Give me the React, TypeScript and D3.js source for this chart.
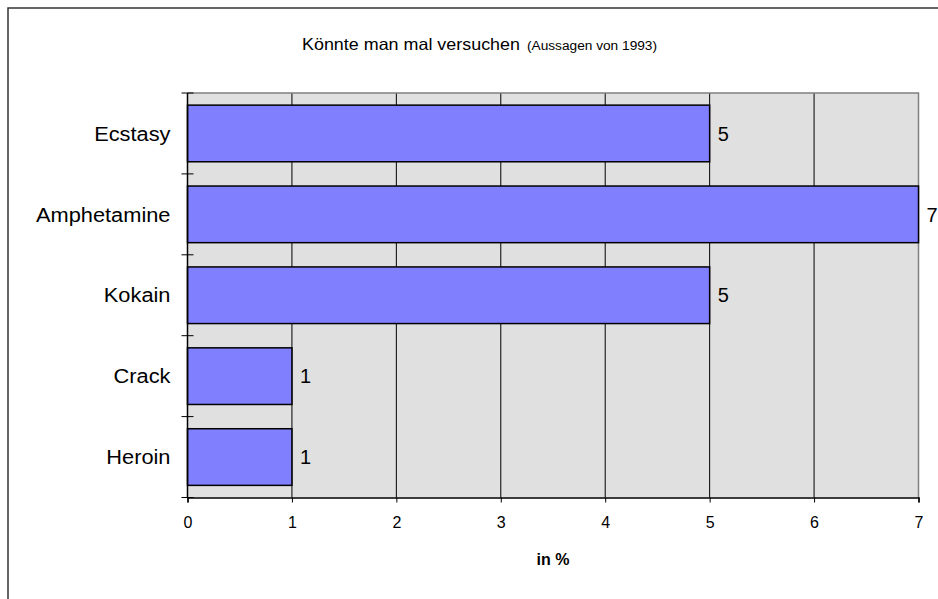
import { useEffect, useRef } from "react";
import * as d3 from "d3";

const categories = ["Ecstasy", "Amphetamine", "Kokain", "Crack", "Heroin"];
const values = [5, 7, 5, 1, 1];
const xTicks = [0, 1, 2, 3, 4, 5, 6, 7];
const titleMain = "Könnte man mal versuchen";
const titleSub = "(Aussagen von 1993)";
const xLabel = "in %";

export default function App() {
  const svgRef = useRef<SVGSVGElement>(null);

  useEffect(() => {
    if (!svgRef.current) return;
    const svg = d3.select(svgRef.current);
    svg.selectAll("*").remove();

    const W = 938;
    const H = 599;
    const plot = { left: 187.5, right: 918.5, top: 93, bottom: 497.5 };
    const font = "Arial, 'Liberation Sans', sans-serif";
    // the original picture is a bit stretched sideways
    const stretch = 1.09;

    // outer frame (only top and left edges are visible in the crop)
    svg.append("path")
      .attr("d", `M8,${H + 2}V8H${W + 2}`)
      .attr("fill", "none")
      .attr("stroke", "#333")
      .attr("stroke-width", 1.5);

    const x = d3.scaleLinear().domain([0, 7]).range([plot.left, plot.right]);
    const y = d3
      .scaleBand<string>()
      .domain(categories)
      .range([plot.top, plot.bottom])
      .paddingInner(0.3)
      .paddingOuter(0.15);

    // plot background
    svg.append("rect")
      .attr("x", plot.left)
      .attr("y", plot.top)
      .attr("width", plot.right - plot.left)
      .attr("height", plot.bottom - plot.top)
      .attr("fill", "#e0e0e0");

    // vertical grid lines
    svg.append("g")
      .selectAll("line")
      .data(xTicks.slice(1, -1))
      .join("line")
      .attr("x1", (d) => x(d))
      .attr("x2", (d) => x(d))
      .attr("y1", plot.top)
      .attr("y2", plot.bottom)
      .attr("stroke", "#000")
      .attr("stroke-width", 1);

    // gray top/right border of plot area
    svg.append("path")
      .attr("d", `M${plot.left},${plot.top}H${plot.right}V${plot.bottom}`)
      .attr("fill", "none")
      .attr("stroke", "#808080")
      .attr("stroke-width", 1.5);

    // bars
    svg.append("g")
      .selectAll("rect")
      .data(categories)
      .join("rect")
      .attr("x", x(0))
      .attr("y", (d) => y(d)!)
      .attr("width", (_, i) => x(values[i]) - x(0))
      .attr("height", y.bandwidth())
      .attr("fill", "#8080ff")
      .attr("stroke", "#000")
      .attr("stroke-width", 1.5);

    // value labels
    svg.append("g")
      .selectAll("text")
      .data(categories)
      .join("text")
      .attr("x", (_, i) => x(values[i]) + 8)
      .attr("y", (d) => y(d)! + y.bandwidth() / 2)
      .attr("dy", "0.36em")
      .attr("font-family", font)
      .attr("font-size", 20)
      .text((_, i) => String(values[i]));

    // y axis line + cross ticks at category boundaries
    const step = y.step();
    const bounds = d3.range(categories.length + 1).map(
      (i) => plot.top + i * step
    );
    svg.append("line")
      .attr("x1", plot.left)
      .attr("x2", plot.left)
      .attr("y1", plot.top)
      .attr("y2", plot.bottom)
      .attr("stroke", "#000")
      .attr("stroke-width", 1.5);
    svg.append("g")
      .selectAll("line")
      .data(bounds)
      .join("line")
      .attr("x1", plot.left - 6)
      .attr("x2", plot.left + 6)
      .attr("y1", (d) => d)
      .attr("y2", (d) => d)
      .attr("stroke", "#000")
      .attr("stroke-width", 1);

    // category labels
    const catLabels = svg.append("g")
      .selectAll<SVGTextElement, string>("text")
      .data(categories)
      .join("text")
      .attr("x", plot.left - 17)
      .attr("y", (d) => y(d)! + y.bandwidth() / 2)
      .attr("dy", "0.36em")
      .attr("text-anchor", "end")
      .attr("font-family", font)
      .attr("font-size", 20)
      .text((d) => d);
    catLabels.each(function () {
      const len = this.getComputedTextLength();
      d3.select(this)
        .attr("textLength", len * stretch)
        .attr("lengthAdjust", "spacingAndGlyphs");
    });

    // x axis
    const xAxis = svg
      .append("g")
      .attr("transform", `translate(0,${plot.bottom})`)
      .call(
        d3.axisBottom(x)
          .tickValues(xTicks)
          .tickSize(5)
          .tickPadding(14)
          .tickFormat(d3.format("d"))
      );
    xAxis.select(".domain").attr("stroke", "#000").attr("stroke-width", 1.5);
    xAxis.selectAll(".tick line").attr("stroke", "#000");
    xAxis.selectAll("text")
      .attr("font-family", font)
      .attr("font-size", 16)
      .attr("fill", "#000");

    // axis title
    svg.append("text")
      .attr("x", (plot.left + plot.right) / 2)
      .attr("y", 565)
      .attr("text-anchor", "middle")
      .attr("font-family", font)
      .attr("font-size", 16)
      .attr("font-weight", "bold")
      .text(xLabel);

    // chart title
    const title = svg.append("text")
      .attr("x", 302)
      .attr("y", 50)
      .attr("font-family", font);
    title.append("tspan")
      .attr("font-size", 16.5)
      .attr("textLength", 218)
      .attr("lengthAdjust", "spacingAndGlyphs")
      .text(titleMain);
    title.append("tspan")
      .attr("x", 527)
      .attr("font-size", 12)
      .attr("textLength", 130)
      .attr("lengthAdjust", "spacingAndGlyphs")
      .text(titleSub);
  }, []);

  return (
    <svg
      ref={svgRef}
      width={938}
      height={599}
      style={{ position: "absolute", left: 0, top: 0, background: "#fff" }}
    />
  );
}
